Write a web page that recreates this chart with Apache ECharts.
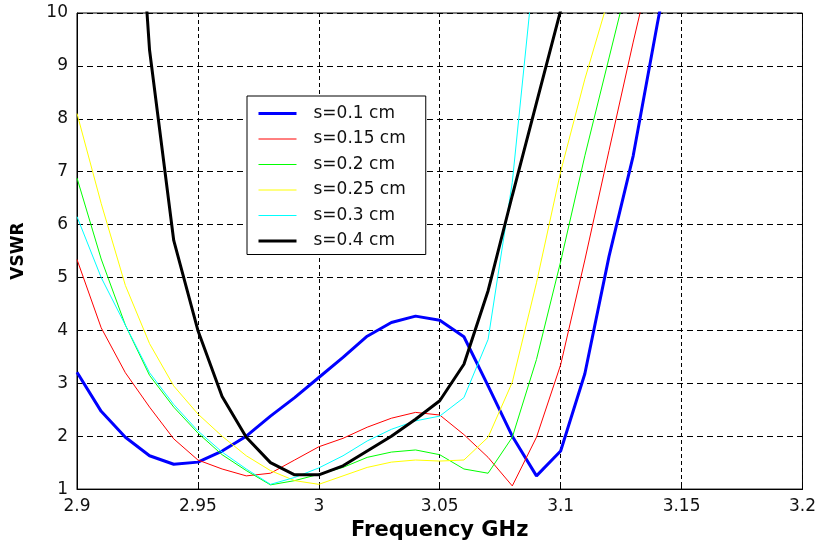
<!DOCTYPE html>
<html>
<head>
    <meta charset="UTF-8">
    <title>VSWR vs Frequency</title>
    <script type="text/javascript" src="https://cdn.jsdelivr.net/npm/echarts@6/dist/echarts.min.js"></script>
    <style>
        body { margin: 0; padding: 0; background: #fff; }
        #chart { width: 819px; height: 546px; }
    </style>
</head>
<body>
    <div id="chart"></div>
    <script>
        // frequency samples (GHz)
        var freq = [2.90, 2.91, 2.92, 2.93, 2.94, 2.95, 2.96, 2.97, 2.98, 2.99,
                    3.00, 3.01, 3.02, 3.03, 3.04, 3.05, 3.06, 3.07, 3.08, 3.09,
                    3.10, 3.11, 3.12, 3.13, 3.14, 3.15];

        // VSWR, one array per gap s
        var s010 = [3.21, 2.47, 1.98, 1.63, 1.47, 1.51, 1.72, 2.0, 2.38, 2.73,
                    3.11, 3.49, 3.89, 4.15, 4.27, 4.19, 3.88, 2.95, 2.0, 1.25,
                    1.72, 3.18, 5.4, 7.3, 9.8, 12.2];
        var s015 = [5.34, 4.05, 3.2, 2.55, 1.95, 1.55, 1.38, 1.25, 1.3, 1.55,
                    1.8, 1.96, 2.17, 2.34, 2.45, 2.4, 2.03, 1.6, 1.06, 1.98,
                    3.35, 5.33, 7.4, 9.45, 11.4, null];
        var s020 = [6.88, 5.35, 4.1, 3.15, 2.55, 2.06, 1.65, 1.35, 1.08, 1.16,
                    1.28, 1.41, 1.6, 1.7, 1.74, 1.65, 1.38, 1.3, 1.98, 3.45,
                    5.3, 7.3, 9.15, 11.0, null, null];
        var s025 = [8.1, 6.4, 4.85, 3.75, 2.95, 2.42, 2.0, 1.63, 1.35, 1.16,
                    1.09, 1.25, 1.41, 1.51, 1.55, 1.53, 1.55, 1.98, 3.02, 4.9,
                    7.0, 8.75, 10.3, null, null, null];
        var s030 = [6.15, 5.0, 4.1, 3.2, 2.6, 2.1, 1.7, 1.38, 1.09, 1.22,
                    1.4, 1.63, 1.91, 2.13, 2.29, 2.38, 2.73, 3.83, 6.8, 11.3,
                    null, null, null, null, null, null];
        var s040 = [null, null, 16.0, 9.3, 5.7, 4.0, 2.75, 1.98, 1.5, 1.27,
                    1.27, 1.44, 1.72, 2.0, 2.32, 2.67, 3.36, 4.75, 6.55, 8.3,
                    10.05, 11.8, null, null, null, null];

        var names = ['s=0.1 cm', 's=0.15 cm', 's=0.2 cm', 's=0.25 cm', 's=0.3 cm', 's=0.4 cm'];
        var values = [s010, s015, s020, s025, s030, s040];
        var colors = ['#0000ff', '#ff0000', '#00ff00', '#ffff00', '#00ffff', '#000000'];
        var widths = [3, 1, 1, 1, 1, 3];

        var font = 'DejaVu Sans';

        var chart = echarts.init(document.getElementById('chart'), null, { renderer: 'canvas' });

        var series = names.map(function (n, k) {
            return {
                name: n,
                type: 'line',
                symbol: 'none',
                clip: true,
                animation: false,
                lineStyle: { color: colors[k], width: widths[k] },
                itemStyle: { color: colors[k] },
                data: freq.map(function (f, i) { return [f, values[k][i]]; })
            };
        });

        var option = {
            backgroundColor: '#ffffff',
            animation: false,
            grid: {
                left: 77, right: 16, top: 13, bottom: 56,
                show: true, borderColor: '#000', borderWidth: 1
            },
            legend: {
                orient: 'vertical',
                left: 247, top: 96,
                padding: [9, 20, 5, 10],
                itemWidth: 38, itemHeight: 14, itemGap: 8.5,
                backgroundColor: '#fff',
                borderColor: '#000', borderWidth: 1,
                textStyle: { fontFamily: font, fontSize: 17, color: '#111', padding: [0, 0, 0, 12] },
                data: names.map(function (n, k) {
                    return {
                        name: n,
                        itemStyle: { opacity: 0 },
                        lineStyle: { width: widths[k], color: colors[k], opacity: 1 }
                    };
                })
            },
            xAxis: {
                type: 'value',
                min: 2.9, max: 3.2, interval: 0.05,
                name: 'Frequency GHz',
                nameLocation: 'middle',
                nameGap: 29,
                nameTextStyle: { fontFamily: font, fontSize: 21, fontWeight: 'bold', color: '#000' },
                axisLine: { lineStyle: { color: '#000' } },
                axisTick: { inside: true, length: 5, lineStyle: { color: '#000' } },
                axisLabel: {
                    fontFamily: font, fontSize: 17, color: '#111', margin: 9,
                    formatter: function (v) { return String(parseFloat(v.toFixed(2))); }
                },
                splitLine: { show: true, lineStyle: { color: '#000', type: [4, 3], width: 1 } }
            },
            yAxis: {
                type: 'value',
                min: 1, max: 10, interval: 1,
                name: 'VSWR',
                nameLocation: 'middle',
                nameGap: 50,
                nameTextStyle: { fontFamily: font, fontSize: 17, fontWeight: 'bold', color: '#000' },
                axisLine: { show: true, lineStyle: { color: '#000' } },
                axisTick: { show: true, inside: true, length: 5, lineStyle: { color: '#000' } },
                axisLabel: { fontFamily: font, fontSize: 17, color: '#111', margin: 9 },
                splitLine: { show: true, lineStyle: { color: '#000', type: [6, 4], width: 1 } }
            },
            series: series
        };

        chart.setOption(option);
    </script>
</body>
</html>
